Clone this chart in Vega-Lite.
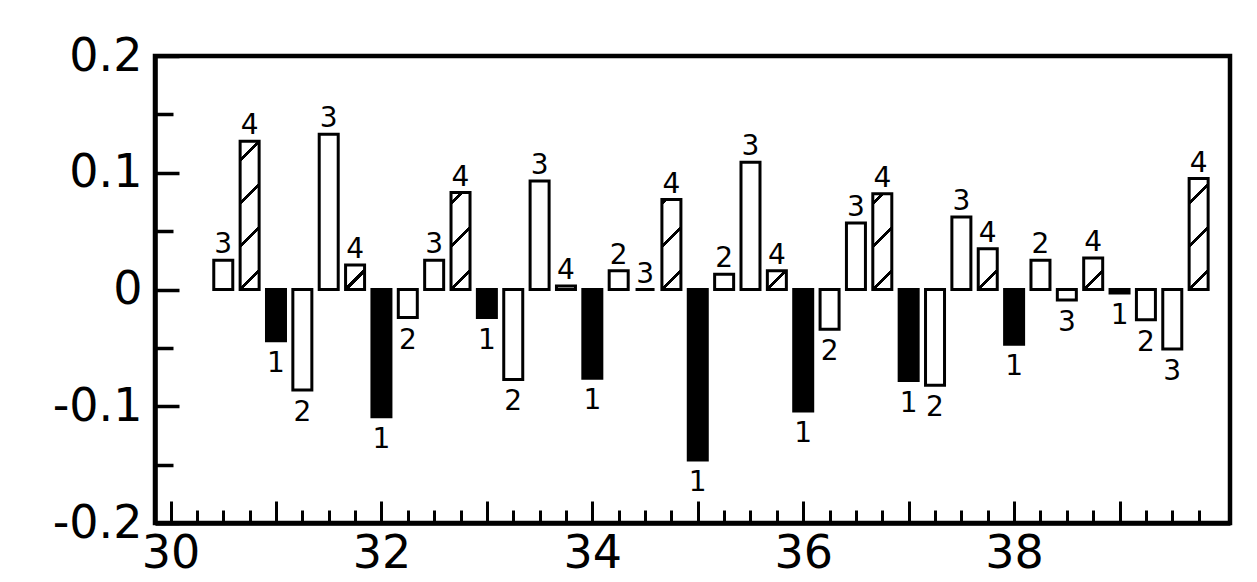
{
  "$schema": "https://vega.github.io/schema/vega-lite/v6.json",
  "width": 1075,
  "height": 467,
  "autosize": "none",
  "padding": {"left": 155, "top": 56, "right": 27, "bottom": 59},
  "background": "white",
  "config": {
    "view": {"stroke": "black", "strokeWidth": 4.5},
    "font": "DejaVu Sans"
  },
  "data": {
    "values": [
      {"pos": 30.5, "value": 0.025, "series": "3"},
      {"pos": 30.75, "value": 0.127, "series": "4"},
      {"pos": 31, "value": -0.044, "series": "1"},
      {"pos": 31.25, "value": -0.086, "series": "2"},
      {"pos": 31.5, "value": 0.133, "series": "3"},
      {"pos": 31.75, "value": 0.021, "series": "4"},
      {"pos": 32, "value": -0.109, "series": "1"},
      {"pos": 32.25, "value": -0.024, "series": "2"},
      {"pos": 32.5, "value": 0.025, "series": "3"},
      {"pos": 32.75, "value": 0.083, "series": "4"},
      {"pos": 33, "value": -0.024, "series": "1"},
      {"pos": 33.25, "value": -0.077, "series": "2"},
      {"pos": 33.5, "value": 0.093, "series": "3"},
      {"pos": 33.75, "value": 0.003, "series": "4"},
      {"pos": 34, "value": -0.076, "series": "1"},
      {"pos": 34.25, "value": 0.016, "series": "2"},
      {"pos": 34.5, "value": 0.0, "series": "3"},
      {"pos": 34.75, "value": 0.077, "series": "4"},
      {"pos": 35, "value": -0.146, "series": "1"},
      {"pos": 35.25, "value": 0.013, "series": "2"},
      {"pos": 35.5, "value": 0.109, "series": "3"},
      {"pos": 35.75, "value": 0.016, "series": "4"},
      {"pos": 36, "value": -0.104, "series": "1"},
      {"pos": 36.25, "value": -0.034, "series": "2"},
      {"pos": 36.5, "value": 0.057, "series": "3"},
      {"pos": 36.75, "value": 0.082, "series": "4"},
      {"pos": 37, "value": -0.078, "series": "1"},
      {"pos": 37.25, "value": -0.082, "series": "2"},
      {"pos": 37.5, "value": 0.062, "series": "3"},
      {"pos": 37.75, "value": 0.035, "series": "4"},
      {"pos": 38, "value": -0.047, "series": "1"},
      {"pos": 38.25, "value": 0.025, "series": "2"},
      {"pos": 38.5, "value": -0.009, "series": "3"},
      {"pos": 38.75, "value": 0.027, "series": "4"},
      {"pos": 39, "value": -0.003, "series": "1"},
      {"pos": 39.25, "value": -0.026, "series": "2"},
      {"pos": 39.5, "value": -0.051, "series": "3"},
      {"pos": 39.75, "value": 0.095, "series": "4"}
    ]
  },
  "encoding": {
    "x": {
      "field": "pos",
      "type": "quantitative",
      "scale": {"domain": [29.9, 40], "nice": false, "zero": false},
      "axis": {
        "title": null,
        "grid": false,
        "values": [30, 30.25, 30.5, 30.75, 31, 31.25, 31.5, 31.75, 32, 32.25, 32.5, 32.75, 33, 33.25, 33.5, 33.75, 34, 34.25, 34.5, 34.75, 35, 35.25, 35.5, 35.75, 36, 36.25, 36.5, 36.75, 37, 37.25, 37.5, 37.75, 38, 38.25, 38.5, 38.75, 39, 39.25, 39.5, 39.75],
        "labelExpr": "datum.value % 2 === 0 ? format(datum.value, 'd') : ''",
        "tickSize": {"condition": {"test": "datum.value % 1 === 0", "value": -22}, "value": -13},
        "tickWidth": 3,
        "tickColor": "black",
        "domainColor": "black",
        "domainWidth": 4.5,
        "labelFont": "DejaVu Sans",
        "labelFontSize": 46,
        "labelColor": "black",
        "labelPadding": 30,
        "labelFlush": false,
        "labelOverlap": false
      }
    },
    "y": {
      "field": "value",
      "type": "quantitative",
      "scale": {"domain": [-0.2, 0.2], "nice": false},
      "axis": {
        "title": null,
        "grid": false,
        "values": [-0.2, -0.15, -0.1, -0.05, 0, 0.05, 0.1, 0.15, 0.2],
        "labelExpr": "abs(round(datum.value*20)) % 2 === 0 ? (datum.value === 0 ? '0' : (datum.value < 0 ? '-' : '') + format(abs(datum.value), '.1f')) : ''",
        "tickSize": {"condition": {"test": "abs(round(datum.value*20)) % 2 === 0", "value": -24}, "value": -18},
        "tickWidth": 3.5,
        "tickColor": "black",
        "domainColor": "black",
        "domainWidth": 4.5,
        "labelFont": "DejaVu Sans",
        "labelFontSize": 46,
        "labelColor": "black",
        "labelPadding": 37,
        "labelOverlap": false
      }
    }
  },
  "layer": [
    {
      "mark": {"type": "bar", "orient": "vertical", "size": 19, "stroke": "black", "strokeWidth": 3},
      "encoding": {
        "fill": {
          "condition": [
            {"test": "datum.series === '1'", "value": "black"},
            {"test": "datum.pos === 30.75", "value": {"gradient": "linear", "x1": 0, "y1": 0, "x2": 0.1422, "y2": 1.1099, "stops": [
              {"offset": 0, "color": "white"},
              {"offset": 0.1028, "color": "white"}, {"offset": 0.1028, "color": "black"}, {"offset": 0.1279, "color": "black"}, {"offset": 0.1279, "color": "white"},
              {"offset": 0.3598, "color": "white"}, {"offset": 0.3598, "color": "black"}, {"offset": 0.3849, "color": "black"}, {"offset": 0.3849, "color": "white"},
              {"offset": 0.6168, "color": "white"}, {"offset": 0.6168, "color": "black"}, {"offset": 0.6420, "color": "black"}, {"offset": 0.6420, "color": "white"},
              {"offset": 0.8738, "color": "white"}, {"offset": 0.8738, "color": "black"}, {"offset": 0.8990, "color": "black"}, {"offset": 0.8990, "color": "white"},
              {"offset": 1, "color": "white"}]}},
            {"test": "datum.pos === 31.75", "value": {"gradient": "linear", "x1": 0, "y1": 0, "x2": 0.860, "y2": 1.1087, "stops": [
              {"offset": 0, "color": "white"},
              {"offset": 0.5149, "color": "white"}, {"offset": 0.5149, "color": "black"}, {"offset": 0.6115, "color": "black"}, {"offset": 0.6115, "color": "white"},
              {"offset": 1, "color": "white"}]}},
            {"test": "datum.pos === 32.75", "value": {"gradient": "linear", "x1": 0, "y1": 0, "x2": 0.2258, "y2": 1.1518, "stops": [
              {"offset": 0, "color": "white"},
              {"offset": 0.0759, "color": "white"}, {"offset": 0.0759, "color": "black"}, {"offset": 0.1121, "color": "black"}, {"offset": 0.1121, "color": "white"},
              {"offset": 0.4470, "color": "white"}, {"offset": 0.4470, "color": "black"}, {"offset": 0.4832, "color": "black"}, {"offset": 0.4832, "color": "white"},
              {"offset": 0.8180, "color": "white"}, {"offset": 0.8180, "color": "black"}, {"offset": 0.8542, "color": "black"}, {"offset": 0.8542, "color": "white"},
              {"offset": 1, "color": "white"}]}},
            {"test": "datum.pos === 34.75", "value": {"gradient": "linear", "x1": 0, "y1": 0, "x2": 0.2451, "y2": 1.1596, "stops": [
              {"offset": 0, "color": "white"},
              {"offset": 0.0165, "color": "white"}, {"offset": 0.0165, "color": "black"}, {"offset": 0.0551, "color": "black"}, {"offset": 0.0551, "color": "white"},
              {"offset": 0.4114, "color": "white"}, {"offset": 0.4114, "color": "black"}, {"offset": 0.4500, "color": "black"}, {"offset": 0.4500, "color": "white"},
              {"offset": 0.8062, "color": "white"}, {"offset": 0.8062, "color": "black"}, {"offset": 0.8448, "color": "black"}, {"offset": 0.8448, "color": "white"},
              {"offset": 1, "color": "white"}]}},
            {"test": "datum.pos === 35.75", "value": {"gradient": "linear", "x1": 0, "y1": 0, "x2": 1.0079, "y2": 0.9920, "stops": [
              {"offset": 0, "color": "white"},
              {"offset": 0.4403, "color": "white"}, {"offset": 0.4403, "color": "black"}, {"offset": 0.5517, "color": "black"}, {"offset": 0.5517, "color": "white"},
              {"offset": 1, "color": "white"}]}},
            {"test": "datum.pos === 36.75", "value": {"gradient": "linear", "x1": 0, "y1": 0, "x2": 0.2289, "y2": 1.1531, "stops": [
              {"offset": 0, "color": "white"},
              {"offset": 0.0663, "color": "white"}, {"offset": 0.0663, "color": "black"}, {"offset": 0.1029, "color": "black"}, {"offset": 0.1029, "color": "white"},
              {"offset": 0.4412, "color": "white"}, {"offset": 0.4412, "color": "black"}, {"offset": 0.4778, "color": "black"}, {"offset": 0.4778, "color": "white"},
              {"offset": 0.8161, "color": "white"}, {"offset": 0.8161, "color": "black"}, {"offset": 0.8527, "color": "black"}, {"offset": 0.8527, "color": "white"},
              {"offset": 1, "color": "white"}]}},
            {"test": "datum.pos === 37.75", "value": {"gradient": "linear", "x1": 0, "y1": 0, "x2": 0.5596, "y2": 1.2046, "stops": [
              {"offset": 0, "color": "white"},
              {"offset": 0.6477, "color": "white"}, {"offset": 0.6477, "color": "black"}, {"offset": 0.7179, "color": "black"}, {"offset": 0.7179, "color": "white"},
              {"offset": 1, "color": "white"}]}},
            {"test": "datum.pos === 38.75", "value": {"gradient": "linear", "x1": 0, "y1": 0, "x2": 0.7090, "y2": 1.1755, "stops": [
              {"offset": 0, "color": "white"},
              {"offset": 0.5822, "color": "white"}, {"offset": 0.5822, "color": "black"}, {"offset": 0.6654, "color": "black"}, {"offset": 0.6654, "color": "white"},
              {"offset": 1, "color": "white"}]}},
            {"test": "datum.pos === 39.75", "value": {"gradient": "linear", "x1": 0, "y1": 0, "x2": 0.1950, "y2": 1.1379, "stops": [
              {"offset": 0, "color": "white"},
              {"offset": 0.1755, "color": "white"}, {"offset": 0.1755, "color": "black"}, {"offset": 0.2079, "color": "black"}, {"offset": 0.2079, "color": "white"},
              {"offset": 0.5065, "color": "white"}, {"offset": 0.5065, "color": "black"}, {"offset": 0.5389, "color": "black"}, {"offset": 0.5389, "color": "white"},
              {"offset": 0.8375, "color": "white"}, {"offset": 0.8375, "color": "black"}, {"offset": 0.8699, "color": "black"}, {"offset": 0.8699, "color": "white"},
              {"offset": 1, "color": "white"}]}}
          ],
          "value": "white"
        }
      }
    },
    {
      "mark": {"type": "rule", "stroke": "black", "strokeWidth": 3},
      "encoding": {"y": {"datum": 0}}
    },
    {
      "transform": [{"filter": "datum.value >= 0"}],
      "mark": {"type": "text", "baseline": "alphabetic", "align": "center", "dy": -7, "fontSize": 28, "font": "DejaVu Sans", "color": "black"},
      "encoding": {"text": {"field": "series"}}
    },
    {
      "transform": [{"filter": "datum.value < 0"}],
      "mark": {"type": "text", "baseline": "top", "align": "center", "dy": 9, "fontSize": 28, "font": "DejaVu Sans", "color": "black"},
      "encoding": {"text": {"field": "series"}}
    }
  ]
}
